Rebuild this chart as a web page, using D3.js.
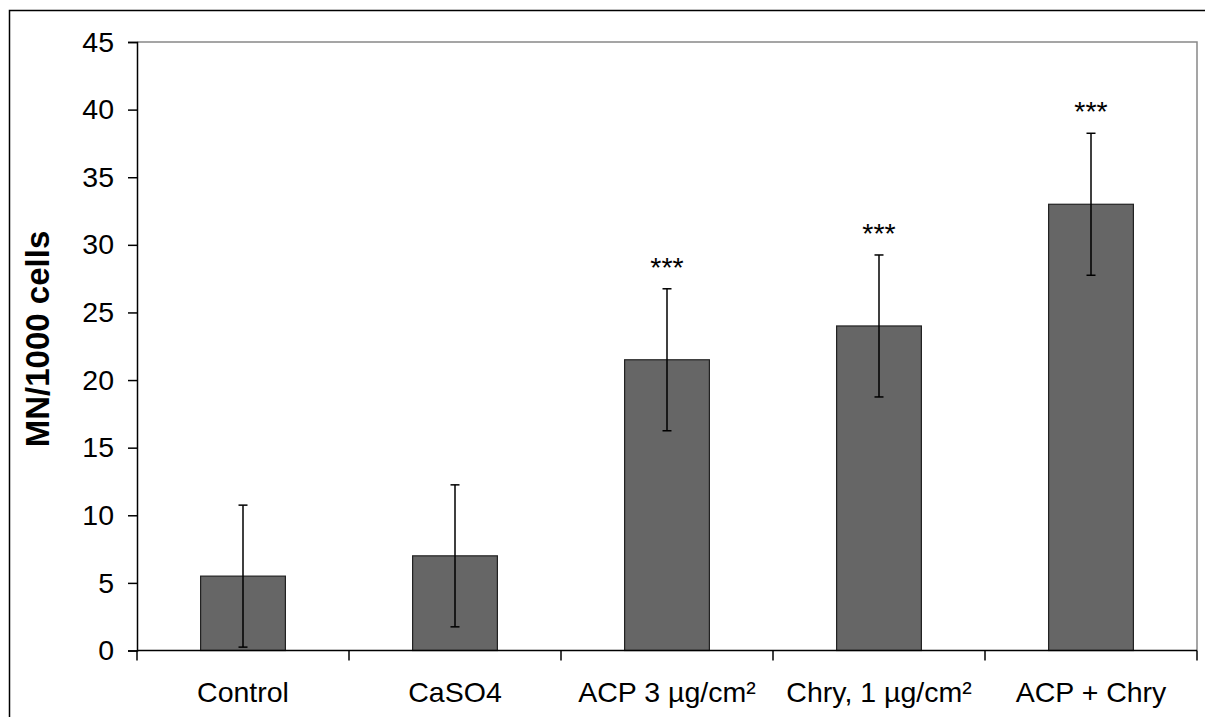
<!DOCTYPE html>
<html><head><meta charset="utf-8">
<script src="https://cdn.jsdelivr.net/npm/d3@7"></script>
<style>body{margin:0;background:#fff}svg{display:block}text{font-family:"Liberation Sans",Arial,sans-serif}</style>
</head><body>
<svg id="c" width="1205" height="717"></svg>
<script>
const categories = ["Control","CaSO4","ACP 3 µg/cm²","Chry, 1 µg/cm²","ACP + Chry"];
const values = [5.5, 7, 21.5, 24, 33];
const errors = [5.25, 5.25, 5.25, 5.25, 5.25];
const marks = ["", "", "***", "***", "***"];
const yTicks = [0,5,10,15,20,25,30,35,40,45];
const yLabel = "MN/1000 cells";

const svg = d3.select("#c");
const L = 137, R = 1197, T = 42, B = 650.5;
const FS = 28.5;
svg.append("rect").attr("x",9.5).attr("y",10.5).attr("width",1300).attr("height",800)
  .attr("fill","none").attr("stroke","#000").attr("stroke-width",1.5);

const x = d3.scaleBand().domain(categories).range([L,R]).paddingInner(0.6).paddingOuter(0.3);
const xb = d3.scaleBand().domain(categories).range([L,R]);
const y = d3.scaleLinear().domain([0,45]).range([B,T]);

// plot border (gray top/right)
svg.append("path").attr("d",`M${L},${T}H${R}V${B}`).attr("fill","none").attr("stroke","#888").attr("stroke-width",1.5);

// bars
svg.selectAll("rect.bar").data(categories).enter().append("rect").attr("class","bar")
  .attr("x",d=>x(d)).attr("width",x.bandwidth())
  .attr("y",(d,i)=>y(values[i])).attr("height",(d,i)=>B-y(values[i]))
  .attr("fill","#666666").attr("stroke","#222").attr("stroke-width",1.2);

// error bars
const cap = 4.5;
categories.forEach((c,i)=>{
  const cx = x(c)+x.bandwidth()/2;
  const y1 = y(values[i]+errors[i]), y0 = y(values[i]-errors[i]);
  const g = svg.append("g").attr("stroke","#000").attr("stroke-width",1.5);
  g.append("line").attr("x1",cx).attr("x2",cx).attr("y1",y1).attr("y2",y0);
  g.append("line").attr("x1",cx-cap).attr("x2",cx+cap).attr("y1",y1).attr("y2",y1);
  g.append("line").attr("x1",cx-cap).attr("x2",cx+cap).attr("y1",y0).attr("y2",y0);
  if (marks[i]) svg.append("text").attr("x",cx).attr("y",y1-12).attr("text-anchor","middle")
    .attr("font-size",FS).attr("fill","#000").text(marks[i]);
});

// y axis
const ya = svg.append("g").attr("transform",`translate(${L},0)`)
  .call(d3.axisLeft(y).tickValues(yTicks).tickSize(9).tickPadding(14));
ya.select(".domain").attr("stroke","#000").attr("stroke-width",1.5);
ya.selectAll(".tick line").attr("stroke","#000").attr("stroke-width",1.5);
ya.selectAll(".tick text").attr("font-size",FS).attr("fill","#000").attr("font-family","Liberation Sans, Arial, sans-serif");

// x axis with ticks at band edges
const xa = svg.append("g").attr("transform",`translate(0,${B})`);
xa.append("line").attr("x1",L).attr("x2",R).attr("stroke","#000").attr("stroke-width",1.5);
const edges = categories.map(c=>xb(c)).concat([R]);
xa.selectAll("line.t").data(edges).enter().append("line").attr("class","t")
  .attr("x1",d=>d).attr("x2",d=>d).attr("y1",0).attr("y2",10).attr("stroke","#000").attr("stroke-width",1.5);
xa.selectAll("text").data(categories).enter().append("text")
  .attr("x",d=>xb(d)+xb.bandwidth()/2).attr("y",51).attr("text-anchor","middle")
  .attr("font-size",FS).attr("fill","#000").text(d=>d);

// y label
svg.append("text").attr("transform",`translate(49,339) rotate(-90)`)
  .attr("text-anchor","middle").attr("font-size",33).attr("font-weight","bold").attr("fill","#000").text(yLabel);
</script>
</body></html>
